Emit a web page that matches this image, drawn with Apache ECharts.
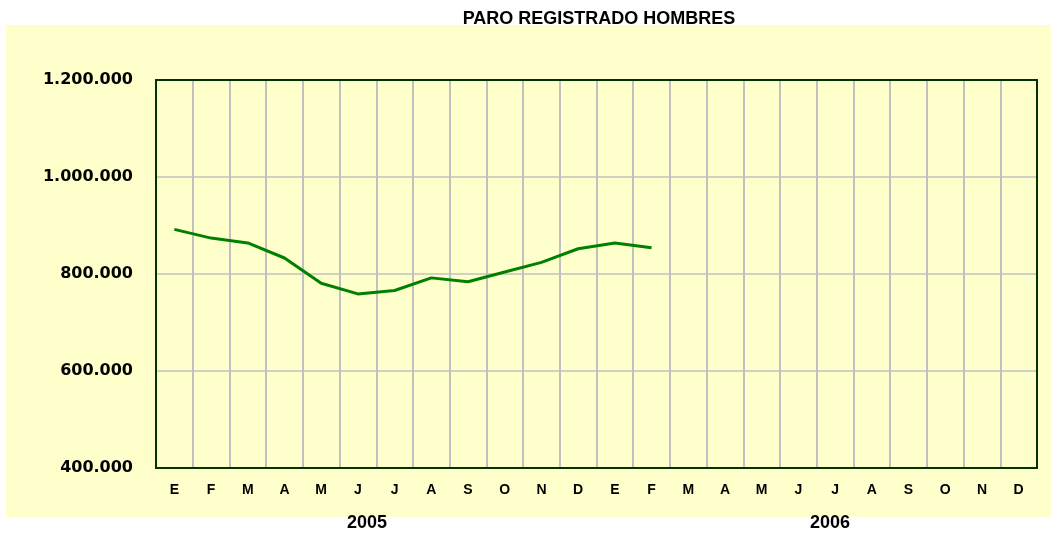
<!DOCTYPE html>
<html>
<head>
<meta charset="utf-8">
<script src="https://cdn.jsdelivr.net/npm/echarts@6/dist/echarts.min.js"></script>
<style>
  html, body { margin: 0; padding: 0; background: #fff; }
  #chart { width: 1051px; height: 535px; }
</style>
</head>
<body>
<div id="chart"></div>
<script>
const months = ['E', 'F', 'M', 'A', 'M', 'J', 'J', 'A', 'S', 'O', 'N', 'D',
	'E', 'F', 'M', 'A', 'M', 'J', 'J', 'A', 'S', 'O', 'N', 'D'];
const years = ['2005', '2006'];
// paro registrado hombres, ene 2005 - feb 2006
const paroHombres = [892000, 874000, 864000, 833000, 781000, 759000, 766000, 792000,
	784000, 804000, 824000, 852000, 864000, 854000,
	null, null, null, null, null, null, null, null, null, null];
const yMin = 400000;
const yMax = 1200000;
const yStep = 200000;

const fmtMiles = (v) => String(v).replace(/\B(?=(\d{3})+(?!\d))/g, '.');
const frameColor = '#003300';

const chart = echarts.init(document.getElementById('chart'));

chart.setOption({
	backgroundColor: '#ffffff',
	animation: false,
	title: {
		text: 'PARO REGISTRADO HOMBRES',
		left: 594,
		top: 5,
		textAlign: 'center',
		textStyle: {
			fontFamily: 'Liberation Sans, Arial, sans-serif',
			fontSize: 18,
			fontWeight: 'bold',
			color: '#000'
		}
	},
	graphic: [
		{
			type: 'rect',
			z: -10,
			silent: true,
			shape: { x: 6, y: 25, width: 1045, height: 492 },
			style: { fill: '#FFFFCC' }
		},
		{
			type: 'text',
			x: 367, y: 523,
			style: {
				text: years[0], align: 'center', verticalAlign: 'middle',
				font: 'bold 18px "Liberation Sans Narrow", "Liberation Sans", Arial, sans-serif',
				fill: '#000'
			}
		},
		{
			type: 'text',
			x: 830, y: 523,
			style: {
				text: years[1], align: 'center', verticalAlign: 'middle',
				font: 'bold 18px "Liberation Sans Narrow", "Liberation Sans", Arial, sans-serif',
				fill: '#000'
			}
		}
	],
	grid: {
		left: 156,
		right: 14,
		top: 80,
		bottom: 67,
		show: false
	},
	xAxis: [
		{
			type: 'category',
			data: months,
			boundaryGap: true,
			axisLine: { show: true, lineStyle: { color: frameColor, width: 2 } },
			axisTick: { show: false },
			axisLabel: {
				interval: 0,
				margin: 15,
				fontFamily: 'Liberation Sans, Arial, sans-serif',
				fontSize: 14,
				fontWeight: 'bold',
				color: '#000'
			},
			splitLine: { show: true, interval: 0, lineStyle: { color: '#C0C0C0', width: 2 } }
		},
		{
			// top edge of the frame
			type: 'category',
			data: months,
			position: 'top',
			axisLine: { show: true, lineStyle: { color: frameColor, width: 2 } },
			axisTick: { show: false },
			axisLabel: { show: false },
			splitLine: { show: false }
		}
	],
	yAxis: [
		{
			type: 'value',
			min: yMin,
			max: yMax,
			interval: yStep,
			axisLine: { show: true, lineStyle: { color: frameColor, width: 2 } },
			axisTick: { show: false },
			axisLabel: {
				margin: 23,
				formatter: fmtMiles,
				fontFamily: 'DejaVu Sans, Verdana, sans-serif',
				fontSize: 16,
				fontWeight: 'bold',
				color: '#000'
			},
			splitLine: { show: true, lineStyle: { color: '#C0C0C0', width: 1.5 } }
		},
		{
			// right edge of the frame
			type: 'value',
			min: yMin,
			max: yMax,
			interval: yStep,
			position: 'right',
			axisLine: { show: true, lineStyle: { color: frameColor, width: 2 } },
			axisTick: { show: false },
			axisLabel: { show: false },
			splitLine: { show: false }
		}
	],
	series: [
		{
			name: 'Paro registrado hombres',
			type: 'line',
			data: paroHombres,
			symbol: 'none',
			connectNulls: false,
			lineStyle: { color: '#008000', width: 3 },
			itemStyle: { color: '#008000' }
		}
	]
});
</script>
</body>
</html>
